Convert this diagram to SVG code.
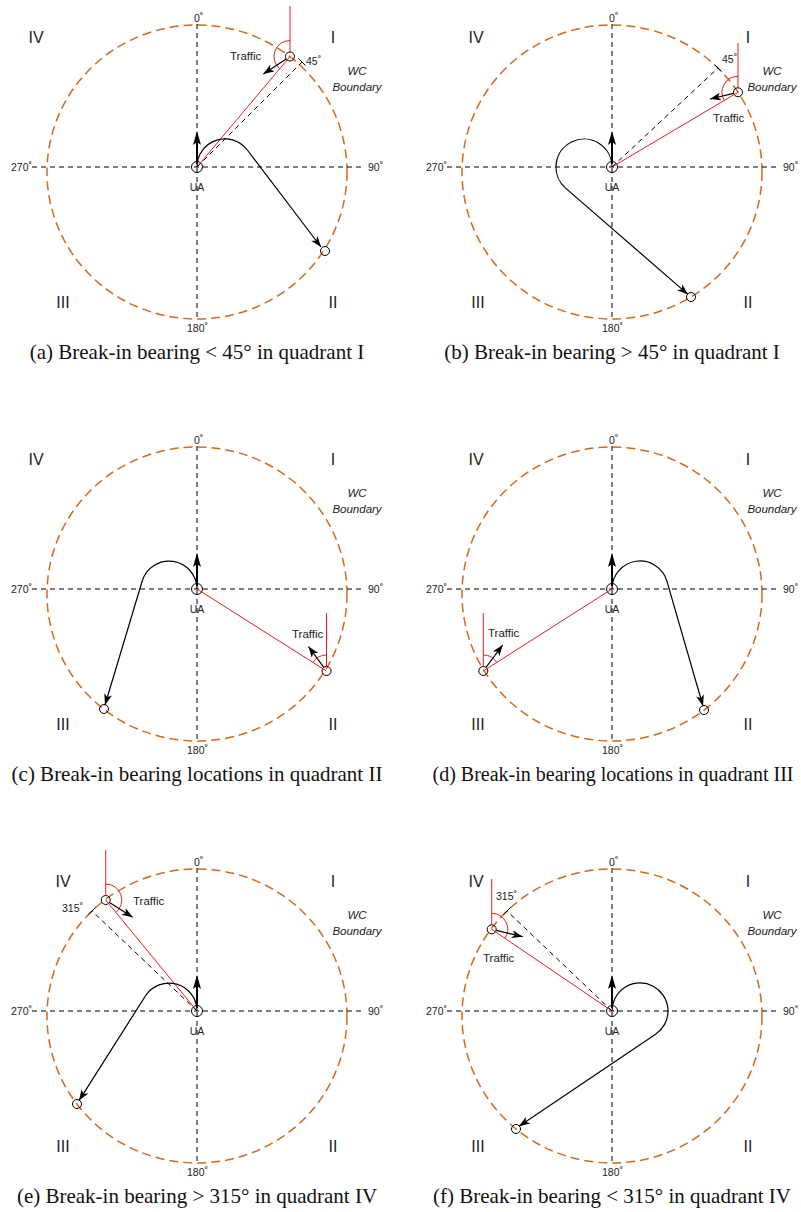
<svg xmlns="http://www.w3.org/2000/svg" width="801" height="1212" viewBox="0 0 801 1212">
<style>
.bnd{fill:none;stroke:#d4691c;stroke-width:1.5;stroke-dasharray:9,5}
.ax{stroke:#000;stroke-width:1;stroke-dasharray:5,4;fill:none}
.red{stroke:#e51f1f;stroke-width:1;fill:none}
.blk{stroke:#000;stroke-width:1.2;fill:none}
.node{fill:none;stroke:#000;stroke-width:1}
.t{font-family:"Liberation Sans",Arial,sans-serif;font-size:10.5px;fill:#222}
.tr{font-family:"Liberation Sans",Arial,sans-serif;font-size:11.5px;fill:#222}
.q{font-family:"Liberation Sans",Arial,sans-serif;font-size:16px;fill:#222;text-anchor:middle}
.wc{font-family:"Liberation Sans",Arial,sans-serif;font-size:11.5px;font-style:italic;fill:#222;text-anchor:middle}
.cap{font-family:"Liberation Serif","Times New Roman",serif;font-size:21px;fill:#111;text-anchor:middle}
.deg{font-size:8px;font-weight:bold}
</style>
<defs>
<marker id="ah" viewBox="0 0 11 8" refX="11" refY="4" markerWidth="11" markerHeight="8" markerUnits="userSpaceOnUse" orient="auto">
<path d="M0,0 L11,4 L0,8 L3,4 z" fill="#000"/>
</marker>
<g id="frame">
<ellipse class="bnd" cx="0" cy="5" rx="150" ry="147"/>
<line class="ax" x1="0" y1="-143" x2="0" y2="152"/>
<line class="ax" x1="-165" y1="0" x2="168" y2="0"/>
<text class="t" x="-3" y="-145">0<tspan class="deg" dy="-4">°</tspan></text>
<text class="t" x="-10" y="165">180<tspan class="deg" dy="-4">°</tspan></text>
<text class="t" x="-186" y="4">270<tspan class="deg" dy="-4">°</tspan></text>
<text class="t" x="171" y="4">90<tspan class="deg" dy="-4">°</tspan></text>
<text class="q" x="136" y="-124">I</text>
<text class="q" x="136" y="141">II</text>
<text class="q" x="-134" y="141">III</text>
<text class="wc" x="160" y="-92">WC</text>
<text class="wc" x="160" y="-76">Boundary</text>
</g>
<g id="ua">
<circle class="node" cx="0" cy="0" r="5.5"/>
<line x1="0" y1="-3" x2="0" y2="-25" stroke="#000" stroke-width="2"/>
<path d="M0,-36 L4,-22 L0,-25 L-4,-22 z" fill="#000"/>
<text class="t" x="0" y="24" text-anchor="middle">UA</text>
</g>
</defs>

<!-- Panel (a) -->
<g id="panel-a">
<g id="a-frame" transform="translate(197,167)"><use href="#frame"/><text class="q" x="-161" y="-124">IV</text></g>
<g id="a-ua" transform="translate(197,167)"><use href="#ua"/></g>
<g id="a-traffic">
<circle class="node" cx="290" cy="56.5" r="4.5"/>
<text class="tr" x="230" y="60">Traffic</text>
</g>
<g id="a-end"><circle class="node" cx="325" cy="251" r="4.5"/></g>
<g id="a-connectors">
<line class="red" x1="290" y1="52" x2="290" y2="6"/>
<line class="red" x1="290" y1="56.5" x2="197" y2="167"/>
<path class="red" d="M290,40.5 A16,16 0 0 0 279.7,68.8"/>
<line class="blk" x1="286.2" y1="59" x2="263.3" y2="74" marker-end="url(#ah)"/>
<line class="ax" x1="197" y1="167" x2="302" y2="62"/>
<line stroke="#000" stroke-width="1" x1="298.5" y1="58.5" x2="305.5" y2="65.5"/>
<path class="blk" d="M197,167 A28,28 0 0 1 247.3,150 L321,247" marker-end="url(#ah)"/>
</g>
<text class="t" x="306" y="65">45<tspan class="deg" dy="-4">°</tspan></text>
<text class="cap" x="197" y="359">(a) Break-in bearing &lt; 45° in quadrant I</text>
</g>

<!-- Panel (b) -->
<g id="panel-b">
<g id="b-frame" transform="translate(612,167)"><use href="#frame"/><text class="q" x="-136" y="-124">IV</text></g>
<g id="b-ua" transform="translate(612,167)"><use href="#ua"/></g>
<g id="b-traffic">
<circle class="node" cx="738" cy="92.3" r="4.5"/>
<text class="tr" x="713" y="122">Traffic</text>
</g>
<g id="b-end"><circle class="node" cx="691" cy="297" r="4.5"/></g>
<g id="b-connectors">
<line class="red" x1="738" y1="88" x2="738" y2="43"/>
<line class="red" x1="738" y1="92.3" x2="612" y2="167"/>
<path class="red" d="M738,76.3 A16,16 0 0 0 724.3,100.5"/>
<line class="blk" x1="733.6" y1="93.4" x2="710" y2="99" marker-end="url(#ah)"/>
<line class="ax" x1="612" y1="167" x2="718" y2="68"/>
<line stroke="#000" stroke-width="1" x1="714.5" y1="64.5" x2="721.5" y2="71.5"/>
<path class="blk" d="M612,167 A28,28 0 1 0 565.6,188.1 L688,294.4" marker-end="url(#ah)"/>
</g>
<text class="t" x="722" y="63">45<tspan class="deg" dy="-4">°</tspan></text>
<text class="cap" x="612" y="359">(b) Break-in bearing &gt; 45° in quadrant I</text>
</g>

<!-- Panel (c) -->
<g id="panel-c">
<g id="c-frame" transform="translate(197,589)"><use href="#frame"/><text class="q" x="-161" y="-124">IV</text></g>
<g id="c-ua" transform="translate(197,589)"><use href="#ua"/></g>
<g id="c-traffic">
<circle class="node" cx="326.5" cy="671" r="4.5"/>
<text class="tr" x="292" y="638">Traffic</text>
</g>
<g id="c-end"><circle class="node" cx="104" cy="709" r="4.5"/></g>
<g id="c-connectors">
<line class="red" x1="326.5" y1="666.5" x2="326.5" y2="613"/>
<line class="red" x1="326.5" y1="671" x2="197" y2="589"/>
<path class="red" d="M326.5,655 A16,16 0 0 0 313,662.5"/>
<line class="blk" x1="323.8" y1="667.4" x2="308.5" y2="646.5" marker-end="url(#ah)"/>
<path class="blk" d="M197,589 A28,28 0 0 0 142.2,581 L105,705" marker-end="url(#ah)"/>
</g>
<text class="cap" x="197" y="781">(c) Break-in bearing locations in quadrant II</text>
</g>

<!-- Panel (d) -->
<g id="panel-d">
<g id="d-frame" transform="translate(612,589)"><use href="#frame"/><text class="q" x="-136" y="-124">IV</text></g>
<g id="d-ua" transform="translate(612,589)"><use href="#ua"/></g>
<g id="d-traffic">
<circle class="node" cx="483.3" cy="671" r="4.5"/>
<text class="tr" x="488" y="637">Traffic</text>
</g>
<g id="d-end"><circle class="node" cx="704" cy="710" r="4.5"/></g>
<g id="d-connectors">
<line class="red" x1="483.3" y1="666.5" x2="483.3" y2="613"/>
<line class="red" x1="483.3" y1="671" x2="612" y2="589"/>
<path class="red" d="M483.3,655 A16,16 0 0 1 496.8,662.4"/>
<line class="blk" x1="486" y1="667.4" x2="502.7" y2="645" marker-end="url(#ah)"/>
<path class="blk" d="M612,589 A28,28 0 0 1 666.9,581.2 L703,706" marker-end="url(#ah)"/>
</g>
<text class="cap" x="613" y="781" style="font-size:20px">(d) Break-in bearing locations in quadrant III</text>
</g>

<!-- Panel (e) -->
<g id="panel-e">
<g id="e-frame" transform="translate(197,1011)"><use href="#frame"/><text class="q" x="-134" y="-124">IV</text></g>
<g id="e-ua" transform="translate(197,1011)"><use href="#ua"/></g>
<g id="e-traffic">
<circle class="node" cx="105.7" cy="900" r="4.5"/>
<text class="tr" x="133" y="905">Traffic</text>
</g>
<g id="e-end"><circle class="node" cx="77" cy="1104" r="4.5"/></g>
<g id="e-connectors">
<line class="red" x1="105.7" y1="895.5" x2="105.7" y2="850"/>
<line class="red" x1="105.7" y1="900" x2="197" y2="1011"/>
<path class="red" d="M105.7,884 A16,16 0 0 1 115.9,912.4"/>
<line class="blk" x1="109.5" y1="902.4" x2="132.7" y2="917.3" marker-end="url(#ah)"/>
<line class="ax" x1="197" y1="1011" x2="92" y2="911"/>
<line stroke="#000" stroke-width="1" x1="95.5" y1="907.4" x2="88.5" y2="914.6"/>
<path class="blk" d="M197,1011 A28,28 0 0 0 145.4,996 L79,1100.6" marker-end="url(#ah)"/>
</g>
<text class="t" x="62" y="912">315<tspan class="deg" dy="-4">°</tspan></text>
<text class="cap" x="197" y="1203">(e) Break-in bearing &gt; 315° in quadrant IV</text>
</g>

<!-- Panel (f) -->
<g id="panel-f">
<g id="f-frame" transform="translate(612,1011)"><use href="#frame"/><text class="q" x="-136" y="-124">IV</text></g>
<g id="f-ua" transform="translate(612,1011)"><use href="#ua"/></g>
<g id="f-traffic">
<circle class="node" cx="491.7" cy="929.3" r="4.5"/>
<text class="tr" x="483" y="962">Traffic</text>
</g>
<g id="f-end"><circle class="node" cx="516" cy="1129" r="4.5"/></g>
<g id="f-connectors">
<line class="red" x1="491.7" y1="924.8" x2="491.7" y2="879"/>
<line class="red" x1="491.7" y1="929.3" x2="612" y2="1011"/>
<path class="red" d="M491.7,913.3 A16,16 0 0 1 504.9,938.3"/>
<line class="blk" x1="496.1" y1="930.3" x2="522.7" y2="936.7" marker-end="url(#ah)"/>
<line class="ax" x1="612" y1="1011" x2="507" y2="911"/>
<line stroke="#000" stroke-width="1" x1="510.5" y1="907.4" x2="503.5" y2="914.6"/>
<path class="blk" d="M612,1011 A28,28 0 1 1 655.6,1034.2 L519,1126.3" marker-end="url(#ah)"/>
</g>
<text class="t" x="496" y="900">315<tspan class="deg" dy="-4">°</tspan></text>
<text class="cap" x="612" y="1203">(f) Break-in bearing &lt; 315° in quadrant IV</text>
</g>
</svg>
